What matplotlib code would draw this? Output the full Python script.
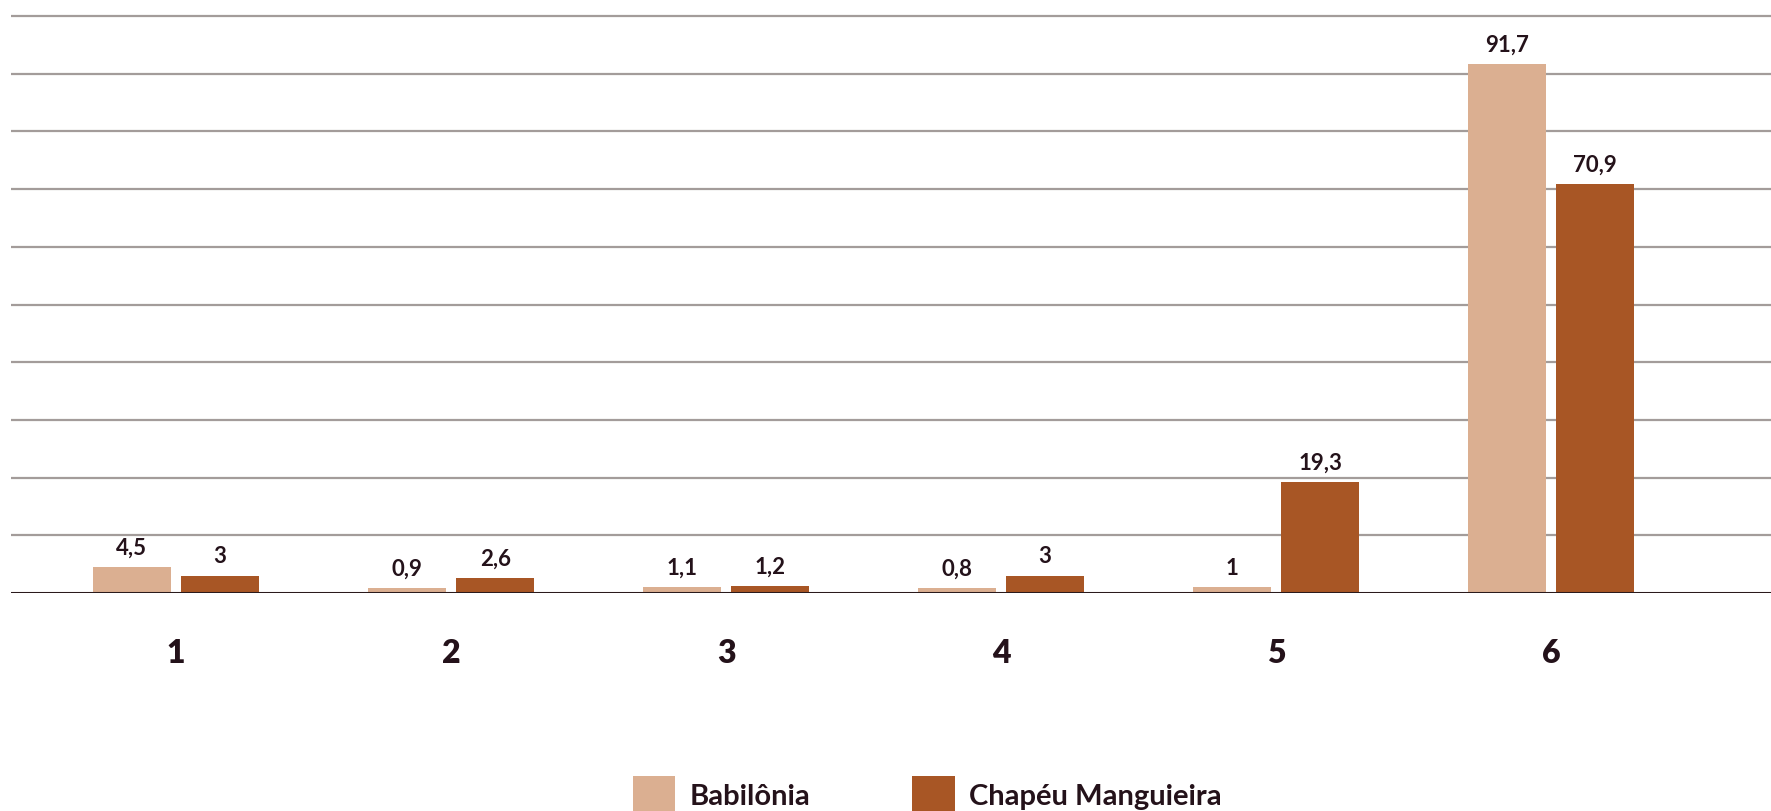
import matplotlib.pyplot as plt
import numpy as np

# values
categories = ["1", "2", "3", "4", "5", "6"]
babilonia = [4.5, 0.9, 1.1, 0.8, 1, 91.7]
chapeu = [3, 2.6, 1.2, 3, 19.3, 70.9]
series_names = ["Babilônia", "Chapéu Manguieira"]

c_bab = "#DBAF91"
c_chap = "#A85625"
c_text = "#24121A"
c_grid = "#A39C9A"

plt.rcParams['font.family'] = ['Lato', 'DejaVu Sans']

fig = plt.figure(figsize=(17.71, 8.11), dpi=100)
ax = fig.add_axes([11 / 1771, 1 - 593 / 811, 1 - 11 / 1771, (593 - 4.5) / 811])

x = np.arange(len(categories))
w = 0.285
off = w / 2 + 0.018
b1 = ax.bar(x - off, babilonia, w, color=c_bab, label=series_names[0], zorder=3)
b2 = ax.bar(x + off, chapeu, w, color=c_chap, label=series_names[1], zorder=3)

def fmt(v):
    s = f"{v:g}"
    return s.replace(".", ",")

for bars, vals in ((b1, babilonia), (b2, chapeu)):
    for rect, v in zip(bars, vals):
        ax.annotate(fmt(v), (rect.get_x() + rect.get_width() / 2, v),
                    xytext=(0, 6), textcoords="offset points",
                    ha="center", va="bottom", fontsize=16, fontweight="bold",
                    color=c_text, zorder=4)

ax.set_xlim(-0.6, 5.8)
ax.set_ylim(0, 102)
ax.set_yticks(np.arange(10, 101, 10))
ax.yaxis.grid(True, color=c_grid, linewidth=1.6, zorder=0)
ax.tick_params(axis="y", left=False, labelleft=False)
ax.axhline(0, color="#2A1A1C", linewidth=2.2, zorder=5)

ax.set_xticks(x)
ax.set_xticklabels(categories, fontsize=23, fontweight="heavy", color=c_text)
ax.tick_params(axis="x", length=0, pad=33)

for s in ax.spines.values():
    s.set_visible(False)

fig.legend(handles=[b1, b2], loc="center left",
           bbox_to_anchor=(618 / 1771, 1 - 795 / 811),
           ncol=2, frameon=False, prop={'weight': 'bold', 'size': 21},
           handlelength=1.45, handleheight=1.6, handletextpad=0.5,
           columnspacing=3.5, borderpad=0, labelcolor=c_text)

fig.savefig("out.png", dpi=100, facecolor="white")
